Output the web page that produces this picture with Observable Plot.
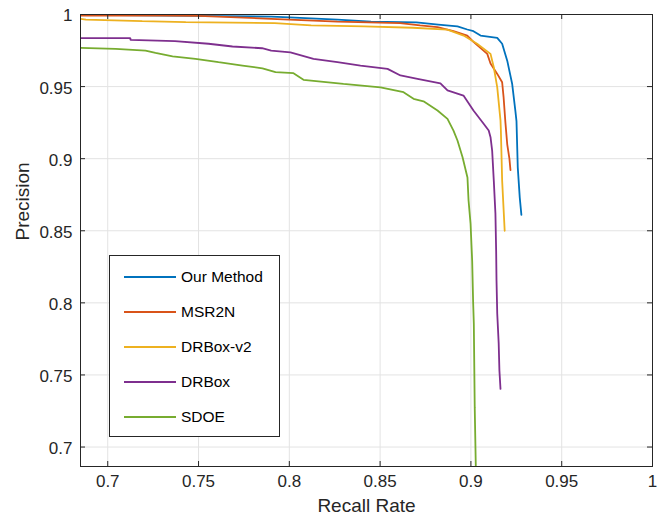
<!DOCTYPE html>
<html>
<head>
<meta charset="utf-8">
<script src="https://cdn.jsdelivr.net/npm/d3@7"></script>
<script src="https://cdn.jsdelivr.net/npm/@observablehq/plot@0.6"></script>
<style>
  html, body { margin: 0; padding: 0; background: #fff; }
  #wrap { position: relative; width: 669px; height: 520px; font-family: "Liberation Sans", Arial, Helvetica, sans-serif; }
  #legend { position: absolute; box-sizing: border-box; background: #fff; border: 1px solid #262626; }
  .item { position: absolute; left: 0; height: 20px; display: flex; align-items: center; }
  .swatch { width: 52px; height: 0; border-top: 2px solid; margin-left: 14px; margin-right: 5px; }
  .lab { font-size: 15.5px; color: #000; white-space: nowrap; }
</style>
</head>
<body>
<div id="wrap"></div>
<script>
// ---- data ----
const seriesNames = ["Our Method", "MSR2N", "DRBox-v2", "DRBox", "SDOE"];
const seriesColors = ["#0072BD", "#D95319", "#EDB120", "#7E2F8E", "#77AC30"];

const ourX = [0.685, 0.705, 0.75, 0.79, 0.80, 0.8265, 0.845, 0.87, 0.882, 0.8926, 0.898, 0.9014, 0.9053, 0.9145, 0.9172, 0.920, 0.9227, 0.9245, 0.9251, 0.9258, 0.9269, 0.9278];
const ourY = [0.9995, 0.9995, 0.999, 0.9985, 0.998, 0.9965, 0.9951, 0.9945, 0.993, 0.9917, 0.9896, 0.9884, 0.9854, 0.9838, 0.9797, 0.968, 0.952, 0.933, 0.926, 0.894, 0.873, 0.861];

const msrX = [0.685, 0.73, 0.75, 0.79, 0.8265, 0.861, 0.872, 0.8816, 0.8904, 0.898, 0.9014, 0.909, 0.9108, 0.9145, 0.9172, 0.918, 0.919, 0.920, 0.9212, 0.9218];
const msrY = [0.9993, 0.9992, 0.999, 0.997, 0.9951, 0.994, 0.9924, 0.9912, 0.9885, 0.9854, 0.981, 0.9727, 0.966, 0.9588, 0.953, 0.9426, 0.925, 0.910, 0.900, 0.892];

const drb2X = [0.685, 0.688, 0.719, 0.743, 0.792, 0.812, 0.841, 0.868, 0.887, 0.896, 0.9034, 0.9108, 0.9126, 0.9145, 0.9163, 0.9165, 0.9172, 0.9186];
const drb2Y = [0.997, 0.9965, 0.9954, 0.9947, 0.994, 0.9924, 0.9917, 0.9908, 0.9895, 0.9854, 0.9797, 0.9727, 0.9634, 0.9495, 0.9264, 0.9195, 0.8848, 0.850];

const drbX = [0.685, 0.7125, 0.7125, 0.737, 0.7555, 0.7687, 0.785, 0.790, 0.8006, 0.8133, 0.8265, 0.8392, 0.8541, 0.8612, 0.8706, 0.8832, 0.8871, 0.8959, 0.9014, 0.9069, 0.9098, 0.9108, 0.9117, 0.9126, 0.9135, 0.9139, 0.9141, 0.9145, 0.9153, 0.9157, 0.9163];
const drbY = [0.9836, 0.9836, 0.9824, 0.9815, 0.9797, 0.9778, 0.9766, 0.975, 0.9738, 0.9692, 0.9669, 0.9646, 0.9623, 0.9577, 0.9554, 0.9523, 0.9473, 0.9438, 0.9334, 0.9244, 0.9195, 0.9149, 0.9056, 0.8848, 0.862, 0.836, 0.8154, 0.7925, 0.7717, 0.753, 0.7403];

const sdoeX = [0.685, 0.7043, 0.7208, 0.7263, 0.7357, 0.7483, 0.761, 0.7742, 0.7852, 0.7924, 0.8023, 0.8078, 0.8298, 0.8502, 0.8629, 0.8684, 0.8739, 0.8816, 0.8871, 0.8904, 0.8926, 0.8954, 0.8981, 0.8987, 0.8998, 0.9007, 0.9012, 0.9016, 0.9021, 0.9027];
const sdoeY = [0.9769, 0.9762, 0.975, 0.9734, 0.971, 0.9692, 0.9669, 0.9646, 0.9627, 0.960, 0.9593, 0.9547, 0.9519, 0.9495, 0.9461, 0.9415, 0.9398, 0.9334, 0.9276, 0.9195, 0.9126, 0.901, 0.887, 0.871, 0.855, 0.829, 0.8015, 0.7856, 0.7275, 0.686];

const xTicks = [0.7, 0.75, 0.8, 0.85, 0.9, 0.95, 1];
const yTicks = [0.7, 0.75, 0.8, 0.85, 0.9, 0.95, 1];
const xTickLabels = ["0.7", "0.75", "0.8", "0.85", "0.9", "0.95", "1"];
const yTickLabels = ["0.7", "0.75", "0.8", "0.85", "0.9", "0.95", "1"];
const xLabel = "Recall Rate";
const yLabel = "Precision";

// ---- build table ----
const seriesXs = [ourX, msrX, drb2X, drbX, sdoeX];
const seriesYs = [ourY, msrY, drb2Y, drbY, sdoeY];
const rows = [];
seriesNames.forEach((name, i) => {
  seriesXs[i].forEach((x, j) => rows.push({series: name, x, y: seriesYs[i][j]}));
});

const W = 669, H = 520;
const mL = 80, mR = 17, mT = 14, mB = 54;
const innerW = W - mL - mR, innerH = H - mT - mB;
const tickLen = 5;
const axisColor = "#262626";
const font = '"Liberation Sans", Arial, Helvetica, sans-serif';

const chart = Plot.plot({
  width: W, height: H,
  marginLeft: mL, marginRight: mR, marginTop: mT, marginBottom: mB,
  style: {fontFamily: font, background: "#fff", overflow: "visible"},
  x: {domain: [0.685, 1], axis: null},
  y: {domain: [0.6865, 1], axis: null},
  color: {domain: seriesNames, range: seriesColors},
  marks: [
    Plot.ruleX(xTicks, {stroke: "#e3e3e3", strokeWidth: 1}),
    Plot.ruleY(yTicks, {stroke: "#e3e3e3", strokeWidth: 1}),
    Plot.line(rows, {x: "x", y: "y", z: "series", stroke: "series", strokeWidth: 1.8, clip: true, strokeLinejoin: "miter"}),
    Plot.frame({stroke: axisColor, strokeWidth: 1}),
    // inward ticks on all four sides
    Plot.ruleX(xTicks, {stroke: axisColor, insetTop: innerH - tickLen}),
    Plot.ruleX(xTicks, {stroke: axisColor, insetBottom: innerH - tickLen}),
    Plot.ruleY(yTicks, {stroke: axisColor, insetRight: innerW - tickLen}),
    Plot.ruleY(yTicks, {stroke: axisColor, insetLeft: innerW - tickLen}),
    // tick labels
    Plot.text(xTicks, {x: d => d, text: (d, i) => xTickLabels[i], frameAnchor: "bottom", dy: 20.6, fontSize: 17, fill: axisColor}),
    Plot.text(yTicks, {y: d => d, text: (d, i) => yTickLabels[i], frameAnchor: "left", dx: -8, dy: 1.5, textAnchor: "end", fontSize: 17, fill: axisColor}),
    // axis titles
    Plot.text([xLabel], {frameAnchor: "bottom", dy: 45, fontSize: 19, fill: axisColor}),
    Plot.text([yLabel], {frameAnchor: "left", dx: -58, rotate: -90, fontSize: 19, fill: axisColor})
  ]
});

const wrap = document.getElementById("wrap");
wrap.appendChild(chart);

// legend box inside the axes (upper-left of lower half)
const legend = d3.select(wrap).append("div").attr("id", "legend")
  .style("left", "109px").style("top", "255px").style("width", "171px").style("height", "182px");
seriesNames.forEach((name, i) => {
  const it = legend.append("div").attr("class", "item").style("top", (11 + i * 35) + "px");
  it.append("div").attr("class", "swatch").style("border-top-color", seriesColors[i]);
  it.append("span").attr("class", "lab").text(name);
});
</script>
</body>
</html>
